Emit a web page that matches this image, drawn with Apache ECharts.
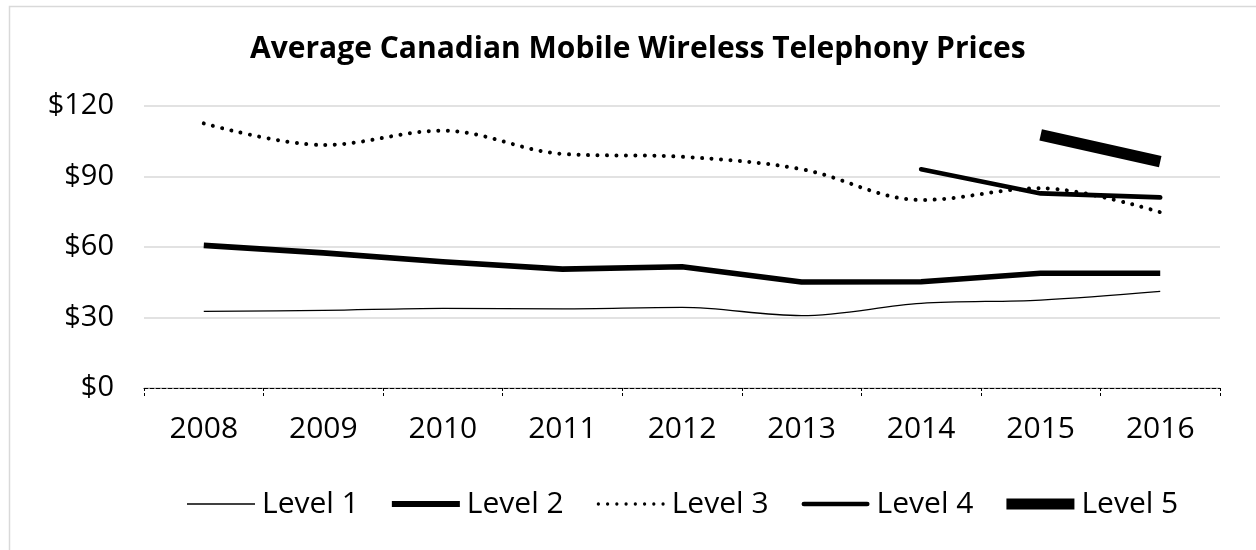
<!DOCTYPE html>
<html>
<head>
<meta charset="utf-8">
<script src="https://cdn.jsdelivr.net/npm/echarts@6/dist/echarts.min.js"></script>
<style>
html,body{margin:0;padding:0;background:#fff;}
#chart{width:1256px;height:550px;}
</style>
</head>
<body>
<div id="chart"></div>
<script>
const years = ['2008','2009','2010','2011','2012','2013','2014','2015','2016'];
const level1 = [32.6, 33.0, 33.9, 33.7, 34.3, 30.8, 36.0, 37.4, 41.1];
const level2 = [60.7, 57.5, 53.7, 50.6, 51.6, 45.1, 45.2, 48.8, 48.8];
const level3 = [112.6, 103.4, 109.5, 99.6, 98.4, 93.1, 80.0, 85.0, 74.8];
const level4 = [null, null, null, null, null, null, 93.1, 82.8, 81.1];
const level5 = [null, null, null, null, null, null, null, 107.7, 96.3];
const yTicks = [0, 30, 60, 90, 120];
const titleText = 'Average Canadian Mobile Wireless Telephony Prices';
const seriesNames = ['Level 1', 'Level 2', 'Level 3', 'Level 4', 'Level 5'];

const FONT = 'Open Sans';
const chart = echarts.init(document.getElementById('chart'));

const styles = [
  {width: 1.3, type: 'solid', cap: 'butt', smooth: true},
  {width: 5.6, type: 'solid', cap: 'butt', smooth: false},
  {width: 4, type: [0.01, 9.5], cap: 'round', smooth: true},
  {width: 4.6, type: 'solid', cap: 'round', smooth: false},
  {width: 11.5, type: 'solid', cap: 'butt', smooth: false}
];
const datas = [level1, level2, level3, level4, level5];

// legend icon shapes
function dotsPath() {
  let p = 'path://';
  const r = 1.6, n = 8, w = 66;
  const step = (w - 2 * r) / (n - 1);
  for (let k = 0; k < n; k++) {
    const cx = r + k * step;
    p += 'M' + (cx - r) + ',' + r + ' a' + r + ',' + r + ' 0 1,0 ' + (2 * r) + ',0 a' + r + ',' + r + ' 0 1,0 ' + (-2 * r) + ',0 ';
  }
  return p;
}
const legendIcons = [
  'path://M0,0 H67 V1.3 H0 Z',
  'path://M0,0 H67 V6 H0 Z',
  dotsPath(),
  'path://M2.3,0 H64.7 A2.3,2.3 0 0 1 64.7,4.6 H2.3 A2.3,2.3 0 0 1 2.3,0 Z',
  'path://M0,0 H68 V11 H0 Z'
];

chart.setOption({
  backgroundColor: '#fff',
  animation: false,
  graphic: [{
    type: 'rect', silent: true, z: -10,
    shape: {x: 9.5, y: 6.5, width: 1400, height: 700},
    style: {fill: 'none', stroke: '#d9d9d9', lineWidth: 1.5}
  }],
  title: {
    text: titleText,
    left: 245,
    top: 29,
    textStyle: {fontFamily: FONT, fontWeight: 'bold', fontSize: 30, color: '#000'}
  },
  legend: {
    left: 182,
    top: 484,
    itemWidth: 68,
    itemHeight: 12,
    itemGap: 33,
    symbolKeepAspect: true,
    textStyle: {fontFamily: FONT, fontSize: 30, color: '#000', padding: [0, 0, 0, 2]},
    data: seriesNames.map((n, i) => ({
      name: n,
      icon: legendIcons[i],
      itemStyle: {color: '#000', borderWidth: 0}
    }))
  },
  grid: {left: 144, right: 36, top: 106, bottom: 162, containLabel: false},
  xAxis: {
    type: 'category',
    data: years,
    boundaryGap: true,
    axisLine: {lineStyle: {color: '#000', width: 1, type: [4, 2]}},
    axisTick: {show: true, length: 8, lineStyle: {color: '#000', width: 1, type: [3, 2]}},
    axisLabel: {fontFamily: FONT, fontSize: 30, color: '#000', margin: 26}
  },
  yAxis: {
    type: 'value',
    min: yTicks[0],
    max: yTicks[yTicks.length - 1],
    interval: yTicks[1] - yTicks[0],
    axisLine: {show: false},
    axisTick: {show: false},
    splitLine: {lineStyle: {color: '#d9d9d9', width: 1.5}},
    axisLabel: {fontFamily: FONT, fontSize: 29, color: '#000', margin: 30,
      formatter: v => '$' + v}
  },
  series: seriesNames.map((n, i) => ({
    name: n,
    type: 'line',
    data: datas[i],
    smooth: styles[i].smooth ? 0.35 : false,
    symbol: 'none',
    showSymbol: false,
    connectNulls: false,
    color: '#000',
    itemStyle: {color: '#000'},
    lineStyle: {color: '#000', width: styles[i].width, type: styles[i].type, cap: styles[i].cap, join: 'round'}
  }))
});
</script>
</body>
</html>
